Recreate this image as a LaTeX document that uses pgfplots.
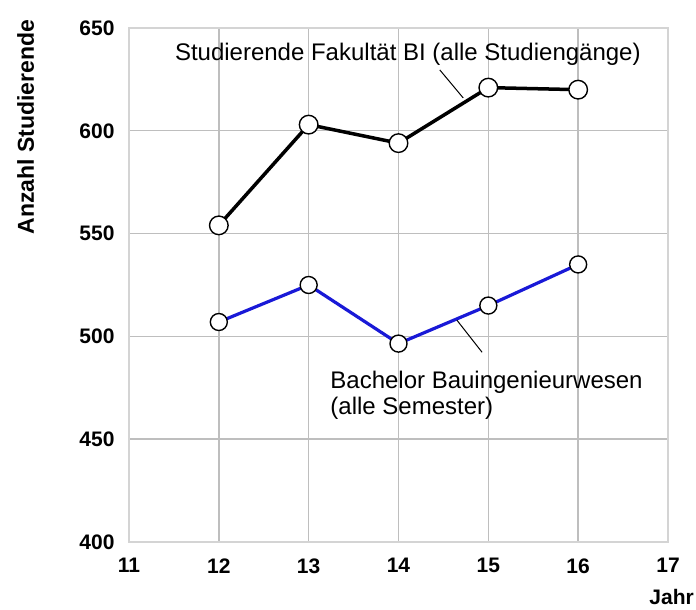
\documentclass[border=0pt]{standalone}
\usepackage{pgfplots}
\pgfplotsset{compat=1.18}
\usepackage{fontspec}
\setmainfont{Liberation Sans}
\definecolor{gridc}{RGB}{190,190,190}
\definecolor{framec}{RGB}{212,212,212}
\definecolor{blueline}{RGB}{25,25,215}
\begin{document}
\begin{tikzpicture}
\begin{axis}[
  at={(0,0)}, anchor=south west,
  scale only axis, width=539pt, height=514pt,
  xmin=11, xmax=17, ymin=400, ymax=650,
  xtick={11,12,...,17}, ytick={400,450,...,650},
  grid=major,
  major grid style={gridc, line width=1.4pt},
  axis line style={framec, line width=1.4pt},
  tick style={draw=none},
  /pgf/number format/assume math mode=true,
  ticklabel style={font=\fontsize{21}{23}\selectfont\bfseries},
  xticklabel style={yshift=-13pt},
  yticklabel style={xshift=-11pt},
  clip=false,
]
\addplot[black, line width=3.5pt, mark=*, mark size=9.3pt,
  mark options={fill=white, draw=black, line width=1.4pt}]
  coordinates {(12,554) (13,603) (14,594) (15,621) (16,620)};
\addplot[blueline, line width=3.2pt, mark=*, mark size=8.5pt,
  mark options={fill=white, draw=black, line width=1.4pt}]
  coordinates {(12,507) (13,525) (14,496.5) (15,515) (16,535)};
\draw[black, line width=1pt] (axis cs:14.46,629.6) -- (axis cs:14.72,616);
\draw[black, line width=1pt] (axis cs:14.65,507.9) -- (axis cs:14.93,492.3);
\node[anchor=base west, inner sep=0pt, font=\fontsize{24}{26}\selectfont]
  at (axis cs:11.51,634) {Studierende Fakultät BI (alle Studiengänge)};
\node[anchor=base west, inner sep=0pt, font=\fontsize{24}{26}\selectfont]
  at (axis cs:13.24,474.8) {Bachelor Bauingenieurwesen};
\node[anchor=base west, inner sep=0pt, font=\fontsize{24}{26}\selectfont]
  at (axis cs:13.24,462) {(alle Semester)};
\end{axis}
\node[anchor=base, rotate=90, inner sep=0pt, font=\fontsize{23}{25}\selectfont\bfseries]
  at (-95pt,415pt) {Anzahl Studierende};
\node[anchor=base east, inner sep=0pt, font=\fontsize{21}{23}\selectfont\bfseries]
  at (565pt,-63pt) {Jahr};
\pgfresetboundingbox
\path (-129pt,-68pt) rectangle (567pt,542pt);
\end{tikzpicture}
\end{document}
